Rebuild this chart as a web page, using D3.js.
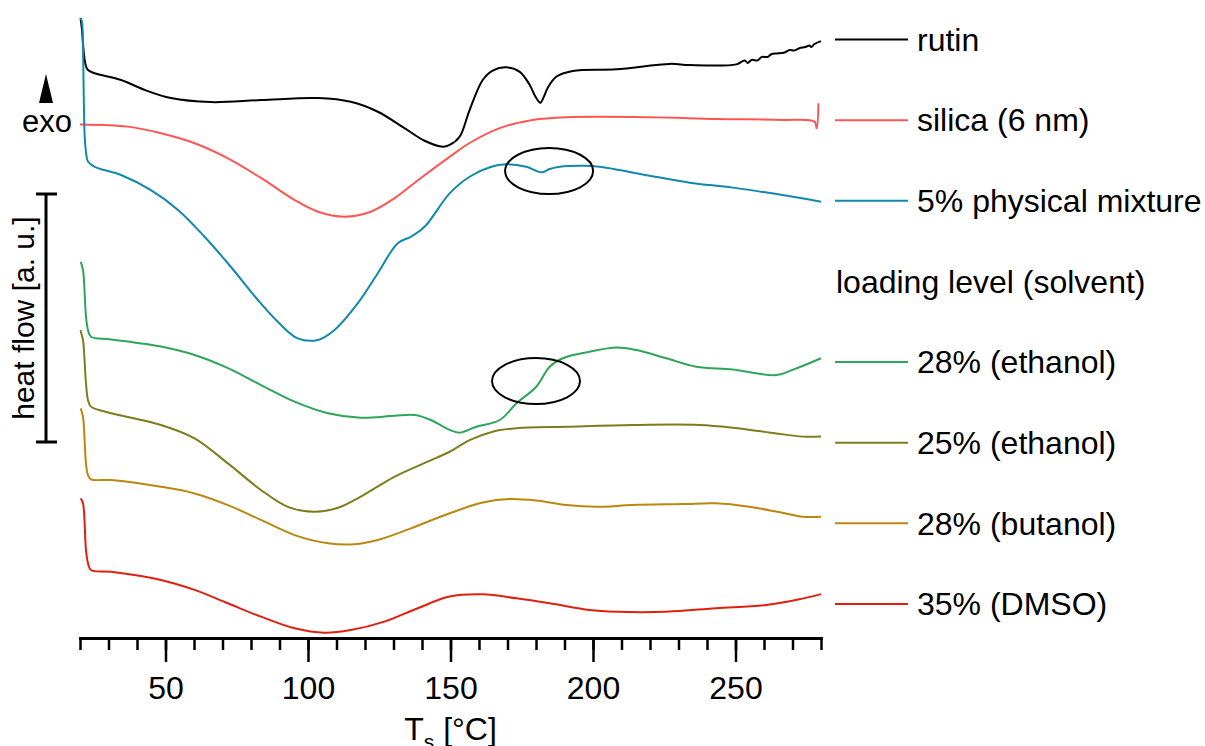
<!DOCTYPE html>
<html>
<head>
<meta charset="utf-8">
<script src="https://cdn.jsdelivr.net/npm/d3@7"></script>
<style>
body { margin: 0; background: #fff; }
text { font-family: "Liberation Sans", Arial, sans-serif; fill: #000; }
</style>
</head>
<body>
<svg width="1205" height="746"></svg>
<script>
// DSC traces, [temperature °C, heat flow a.u. (offset)]
var rutin = [[20.2,25.0],[20.7,24.52],[21.4,23.51],[22.1,23.06],[22.8,22.9],[25.15,22.77],[34.4,22.5],[42.7,22.1],[51.9,21.77],[65.9,21.61],[83.5,21.69],[103.5,21.77],[115.0,21.62],[124.5,21.22],[133.85,20.56],[140.9,20.05],[147.3,19.81],[149.7,19.88],[153.2,20.21],[156.7,21.29],[161.3,22.5],[164.8,22.88],[169.6,23.01],[174.3,22.83],[177.8,22.3],[179.9,21.81],[181.5,21.58],[182.7,21.81],[184.1,22.18],[187.1,22.63],[192.9,22.86],[208.2,22.93],[226.9,23.15],[233.9,23.10],[250.3,23.13],[253.2,23.29],[254.3,23.19],[255.7,23.31],[257.8,23.29],[259.2,23.43],[261.2,23.43],[262.7,23.55],[264.4,23.57],[267.2,23.61],[269.0,23.71],[270.6,23.69],[272.4,23.78],[274.5,23.83],[275.9,23.89],[276.6,23.83],[277.7,23.95],[280,24.07]];
var silica = [[20,20.71],[36.8,20.62],[48.4,20.35],[60.2,19.95],[71.9,19.34],[83.5,18.55],[95.3,17.66],[103.5,17.19],[112.8,16.99],[122.0,17.19],[130.3,17.73],[139.6,18.55],[149.7,19.4],[156.7,19.96],[167.3,20.56],[178.8,20.89],[190.7,21.0],[219.9,21.0],[243.2,20.93],[266.5,20.89],[277.7,20.82],[278.5,20.55],[279.1,21.56]];
var physMix = [[20.2,25.0],[20.7,24.84],[21.05,23.71],[21.65,20.21],[22.1,19.6],[22.8,19.21],[25.15,19.0],[34.4,18.67],[44.9,18.06],[54.4,17.26],[63.7,16.18],[72.9,14.97],[82.4,13.63],[89.4,12.75],[96.4,12.08],[103.5,12.02],[109.3,12.42],[117.5,13.5],[124.5,14.71],[131.5,15.92],[136.1,16.18],[140.9,16.58],[149.7,17.93],[156.7,18.6],[163.8,18.98],[169.6,19.1],[176.6,19.0],[181.9,18.78],[184.8,18.91],[188.3,19.0],[196.4,19.04],[202.3,19.0],[219.9,18.64],[233.9,18.36],[249.0,18.16],[266.5,17.86],[280,17.59]];
var eth28 = [[20.25,15.17],[21.05,14.84],[22.1,12.96],[22.8,12.42],[23.85,12.15],[30.9,12.04],[48.4,11.75],[60.2,11.41],[71.9,10.88],[83.5,10.2],[95.3,9.53],[107.0,9.06],[118.5,8.88],[130.3,8.96],[137.4,8.99],[143.1,8.79],[149.7,8.39],[153.2,8.28],[159.1,8.52],[167.3,8.79],[173.1,9.46],[180.1,10.13],[184.8,10.94],[189.4,11.28],[198.8,11.54],[208.2,11.71],[215.2,11.61],[225.7,11.28],[236.2,10.94],[249.0,10.83],[264.3,10.6],[270.0,10.81],[280,11.28]];
var eth25 = [[20.2,12.42],[20.45,12.29],[21.05,12.02],[22.1,10.27],[22.8,9.6],[23.85,9.33],[28.65,9.13],[48.4,8.59],[60.2,8.05],[71.9,7.04],[83.5,5.97],[92.9,5.29],[102.3,5.09],[110.5,5.25],[118.5,5.7],[130.3,6.5],[142.0,7.11],[149.7,7.51],[156.7,7.98],[164.8,8.32],[173.1,8.46],[190.7,8.52],[213.9,8.59],[237.4,8.59],[249.0,8.48],[264.3,8.25],[273.5,8.12],[280,8.12]];
var but28 = [[20.25,9.26],[21.05,8.92],[22.1,7.04],[22.8,6.57],[23.85,6.4],[30.9,6.37],[48.4,6.1],[60.2,5.83],[71.9,5.36],[83.5,4.76],[95.3,4.15],[107.0,3.82],[116.3,3.78],[124.5,3.95],[136.1,4.42],[149.7,5.03],[161.3,5.46],[170.8,5.6],[180.1,5.54],[190.7,5.36],[201.2,5.29],[213.9,5.36],[231.4,5.4],[243.2,5.43],[254.9,5.29],[266.5,5.05],[273.5,4.89],[280,4.89]];
var dmso35 = [[20.25,5.63],[21.05,5.43],[22.1,3.55],[22.8,3.02],[23.85,2.74],[30.9,2.67],[48.4,2.34],[60.2,1.94],[71.9,1.4],[83.5,0.86],[95.3,0.39],[105.8,0.21],[115.0,0.32],[126.8,0.66],[138.5,1.2],[149.7,1.67],[161.3,1.76],[173.1,1.6],[184.8,1.4],[198.8,1.13],[208.2,1.06],[225.7,1.06],[243.2,1.2],[260.8,1.33],[272.4,1.56],[280,1.77]];

var seriesNames = ["rutin", "silica (6 nm)", "5% physical mixture", "28% (ethanol)", "25% (ethanol)", "28% (butanol)", "35% (DMSO)"];
var seriesData = [rutin, silica, physMix, eth28, eth25, but28, dmso35];
var legendHeading = "loading level (solvent)";
var majorTicks = [50, 100, 150, 200, 250];
var minorTicks = d3.range(20, 281, 10);
// marked regions [T centre, heat flow centre]
var marks = [[184.6, 18.83], [180.0, 10.36]];

var colors = ["#000000", "#ff5555", "#1189ac", "#2ea55a", "#7d7d1e", "#bb870f", "#e0200f"];

var svg = d3.select("svg");
var x = d3.scaleLinear().domain([20, 280]).range([80, 821]);
var y = d3.scaleLinear().domain([0, 25]).range([638, 18]);

var line = d3.line()
    .x(function (d) { return x(d[0]); })
    .y(function (d) { return y(d[1]); })
    .curve(d3.curveCatmullRom.alpha(0.5));

svg.append("g").selectAll("path")
    .data(seriesData)
    .enter().append("path")
    .attr("d", line)
    .attr("fill", "none")
    .attr("stroke", function (d, i) { return colors[i]; })
    .attr("stroke-width", 2)
    .attr("stroke-linejoin", "round");

// ellipses
svg.append("g").selectAll("ellipse")
    .data(marks)
    .enter().append("ellipse")
    .attr("cx", function (d) { return x(d[0]); })
    .attr("cy", function (d) { return y(d[1]); })
    .attr("rx", 44)
    .attr("ry", 23)
    .attr("fill", "none")
    .attr("stroke", "#000")
    .attr("stroke-width", 2);

// x axis: minor + major
var minorAxis = svg.append("g")
    .attr("transform", "translate(0,638)")
    .call(d3.axisBottom(x).tickValues(minorTicks).tickSize(12).tickSizeOuter(0).tickFormat(""));
var majorAxis = svg.append("g")
    .attr("transform", "translate(0,638)")
    .call(d3.axisBottom(x).tickValues(majorTicks).tickSize(24).tickPadding(14).tickSizeOuter(0));
majorAxis.select(".domain").remove();
minorAxis.select(".domain").attr("stroke", "#000").attr("stroke-width", 3).attr("stroke-linecap", "square");
svg.selectAll(".tick line").attr("stroke", "#000").attr("stroke-width", 2.5);
majorAxis.selectAll("text")
    .attr("font-family", "Liberation Sans, Arial, sans-serif")
    .attr("font-size", 32)
    .attr("fill", "#000");

var title = svg.append("text")
    .attr("x", x(150))
    .attr("y", 740)
    .attr("text-anchor", "middle")
    .attr("font-size", 32);
title.append("tspan").text("T");
title.append("tspan").attr("font-size", 21).attr("dy", 9).text("s");
title.append("tspan").attr("dy", -9).text(" [°C]");

// exo arrow and label
svg.append("path")
    .attr("d", "M46,74L53,103L39,103Z")
    .attr("fill", "#000");
svg.append("text")
    .attr("x", 22)
    .attr("y", 132)
    .attr("font-size", 31)
    .text("exo");

// heat flow scale bar (10 a.u.)
var barTop = y(17.9), barBot = y(7.9);
svg.append("path")
    .attr("d", "M46," + barTop + "V" + barBot + "M36," + barTop + "H57M36," + barBot + "H57")
    .attr("fill", "none")
    .attr("stroke", "#000")
    .attr("stroke-width", 3);
svg.append("text")
    .attr("transform", "translate(33.5," + ((barTop + barBot) / 2) + ") rotate(-90)")
    .attr("text-anchor", "middle")
    .attr("font-size", 30)
    .text("heat flow [a. u.]");

// legend
var legendY = d3.scaleLinear().domain([0, 7]).range([39.5, 604]);
var rows = [0, 1, 2, 4, 5, 6, 7];
var legend = svg.append("g").selectAll("g")
    .data(seriesNames)
    .enter().append("g")
    .attr("transform", function (d, i) { return "translate(0," + legendY(rows[i]) + ")"; });
legend.append("line")
    .attr("x1", 835).attr("x2", 908)
    .attr("stroke", function (d, i) { return colors[i]; })
    .attr("stroke-width", 2);
legend.append("text")
    .attr("x", 917)
    .attr("dy", "0.35em")
    .attr("font-size", 32)
    .text(function (d) { return d; });
svg.append("text")
    .attr("x", 836)
    .attr("y", legendY(3))
    .attr("dy", "0.35em")
    .attr("font-size", 32)
    .text(legendHeading);
</script>
</body>
</html>
